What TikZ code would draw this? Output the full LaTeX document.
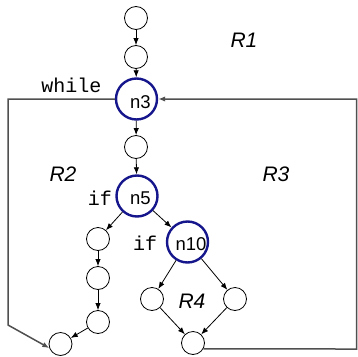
\documentclass[tikz,border=0pt]{standalone}
\usepackage{fontspec}
\setmainfont{Liberation Sans}
\setsansfont{Liberation Sans}
\setmonofont{Liberation Mono}
\usepackage{xcolor}
\usepackage{tikz}
\usetikzlibrary{positioning,arrows.meta}
\definecolor{decblue}{RGB}{22,22,140}
\definecolor{loopgray}{RGB}{80,80,80}
\tikzset{
  plainnode/.style={draw=black,circle,line width=0.8pt,minimum size=23pt,inner sep=0pt},
  decnode/.style={draw=decblue,circle,line width=2.4pt,minimum size=41pt,inner sep=0pt},
  nlabel/.style={font=\fontsize{18.5}{18.5}\selectfont\sffamily,inner sep=0pt},
  region/.style={font=\fontsize{21}{21}\selectfont\sffamily\itshape,inner sep=0pt},
  kword/.style={font=\fontsize{20}{20}\selectfont\ttfamily,inner sep=0pt,anchor=base},
  flow/.style={-{Latex[length=7pt,width=5.4pt]},line width=0.8pt,draw=black},
  backflow/.style={-{Latex[length=7pt,width=5.4pt]},line width=1.5pt,draw=loopgray},
}
\begin{document}
\begin{tikzpicture}[x=1pt,y=-1pt]
  \useasboundingbox (0,0) rectangle (358,356);
  % straight part down to the while node
  \node[plainnode] (s1) at (136,18) {};
  \node[plainnode] (s2) at (136,57) {};
  \node[decnode] (n3) at (136.5,99) {};
  \node[plainnode] (s4) at (136,147) {};
  \node[decnode] (n5) at (137,196) {};
  \node[decnode] (n10) at (187.5,242) {};
  % left branch
  \node[plainnode] (l1) at (98,239) {};
  \node[plainnode] (l2) at (98,278) {};
  \node[plainnode] (l3) at (98,322) {};
  \node[plainnode] (lend) at (60.5,344) {};
  % right branch
  \node[plainnode] (r1) at (152,299) {};
  \node[plainnode] (r2) at (235,299) {};
  \node[plainnode] (rend) at (193,343) {};
  % texts
  \node[nlabel,xshift=4pt,yshift=-3pt] (t3) at (n3) {n3};
  \node[nlabel,xshift=3.5pt,yshift=-2.5pt] (t5) at (n5) {n5};
  \node[nlabel,xshift=3.5pt,yshift=-2.5pt] (t10) at (n10) {n10};
  \node[kword] (kwhile) at (71.5,92) {while};
  \node[kword] (kif1) at (100,205) {if};
  \node[kword] (kif2) at (145,250) {if};
  \node[region] (reg1) at (244,40) {R1};
  \node[region] (reg2) at (63,174) {R2};
  \node[region] (reg3) at (276,174) {R3};
  \node[region] (reg4) at (192,301) {R4};
  % corners of the two loops
  \coordinate (cl1) at (8,99);
  \coordinate (cl2) at (8,325);
  \coordinate (cr1) at (356.5,349);
  \coordinate (cr2) at (356.5,99);
  \draw[flow] (s1) -- (s2);
  \draw[flow] (s2) -- (n3);
  \draw[flow] (n3) -- (s4);
  \draw[flow] (s4) -- (n5);
  \draw[flow] (n5) -- (l1);
  \draw[flow] (n5) -- (n10);
  \draw[flow] (l1) -- (l2);
  \draw[flow] (l2) -- (l3);
  \draw[flow] (l3) -- (lend);
  \draw[flow] (n10) -- (r1);
  \draw[flow] (n10) -- (r2);
  \draw[flow] (r1) -- (rend);
  \draw[flow] (r2) -- (rend);
  \draw[backflow] (n3.west) -- (cl1) -- (cl2) -- (lend.200);
  \draw[backflow] (rend.-30) -- (cr1) -- (cr2) -- (n3.east);
\end{tikzpicture}
\end{document}
